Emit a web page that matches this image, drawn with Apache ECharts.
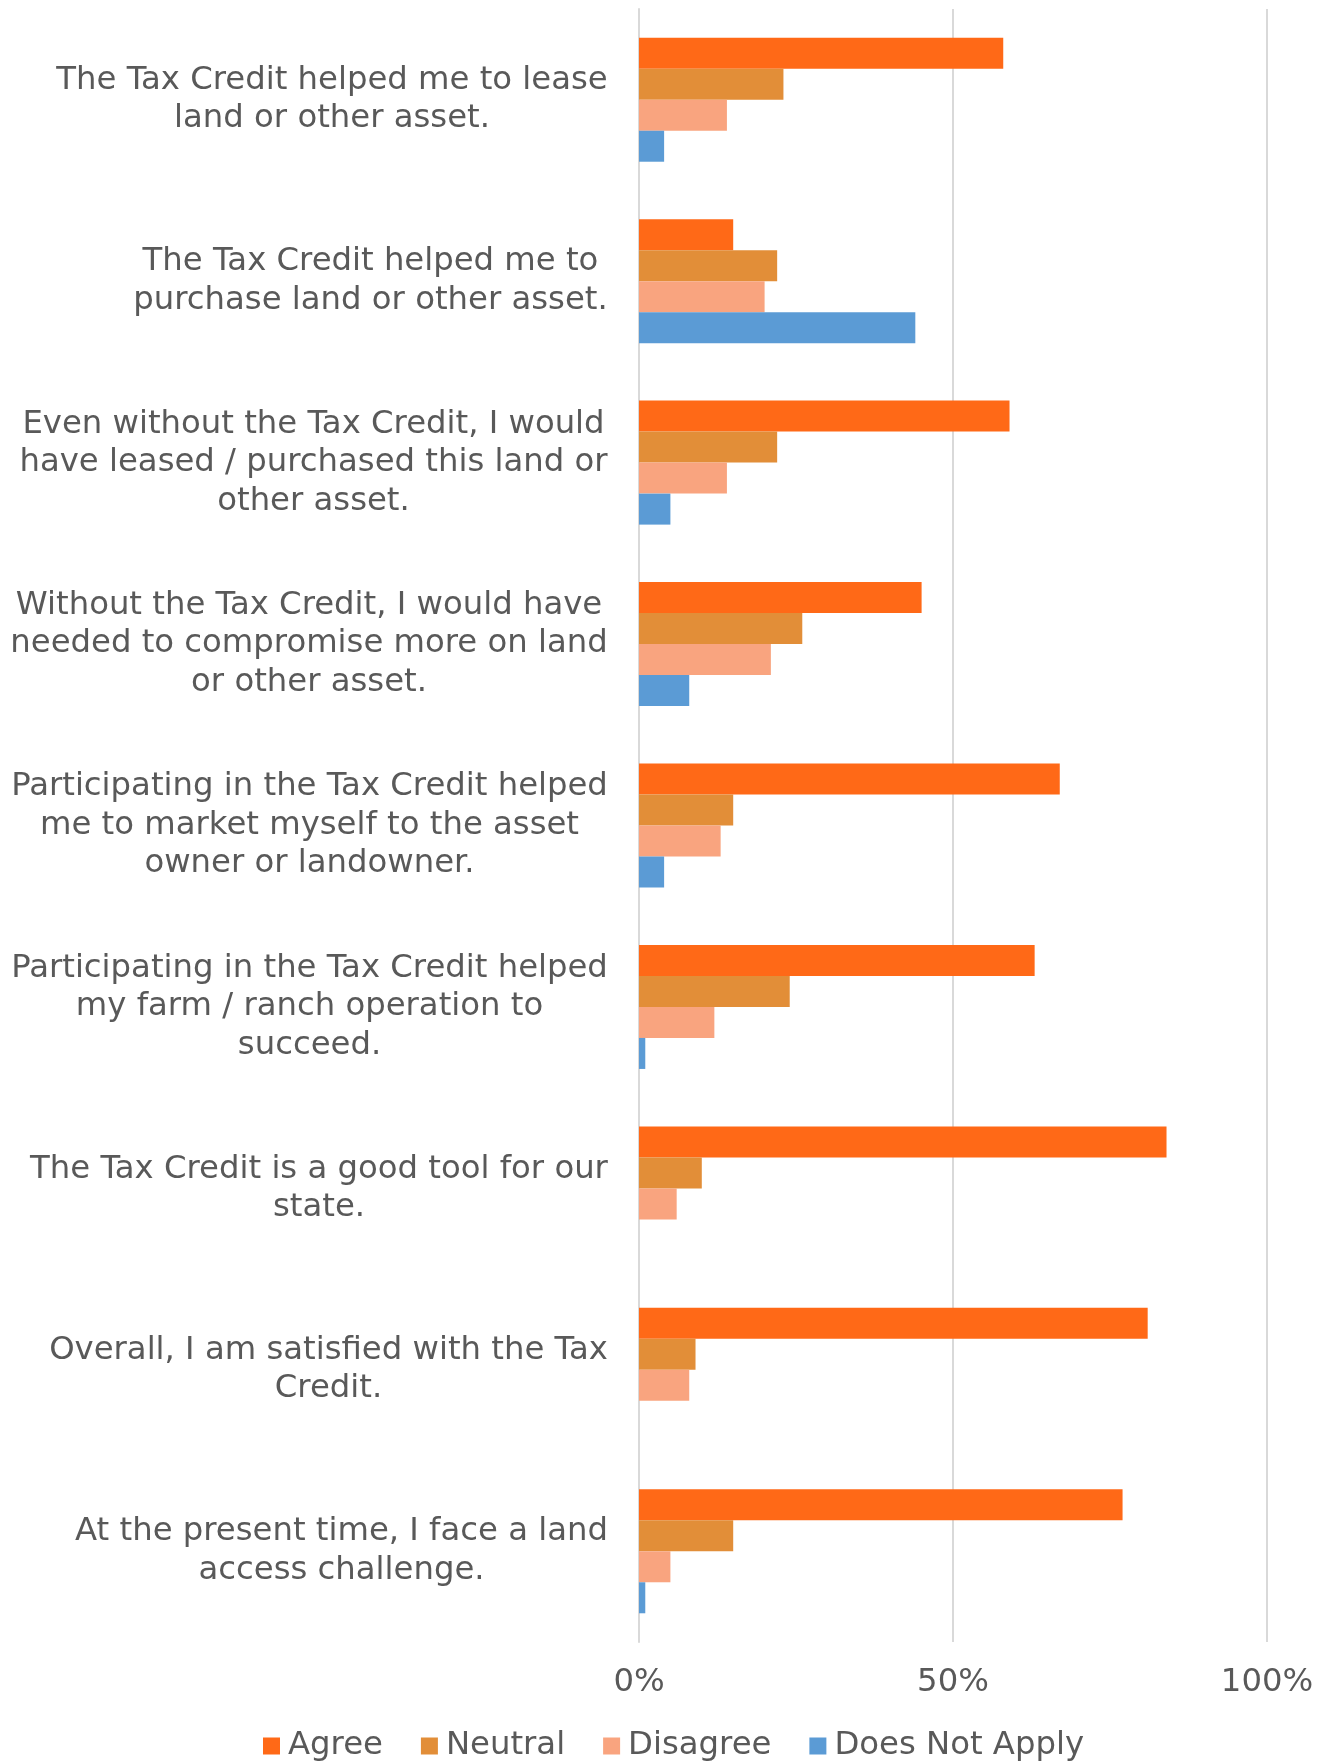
<!DOCTYPE html>
<html>
<head>
<meta charset="utf-8">
<script src="https://cdn.jsdelivr.net/npm/echarts@6/dist/echarts.min.js"></script>
<style>
html,body{margin:0;padding:0;background:#fff;}
#chart{width:1330px;height:1762px;}
</style>
</head>
<body>
<div id="chart"></div>
<script>
const categories = [
  "The Tax Credit helped me to lease\nland or other asset.",
  "The Tax Credit helped me to\npurchase land or other asset.",
  "Even without the Tax Credit, I would\nhave leased / purchased this land or\nother asset.",
  "Without the Tax Credit, I would have\nneeded to compromise more on land\nor other asset.",
  "Participating in the Tax Credit helped\nme to market myself to the asset\nowner or landowner.",
  "Participating in the Tax Credit helped\nmy farm / ranch operation to\nsucceed.",
  "The Tax Credit is a good tool for our\nstate.",
  "Overall, I am satisfied with the Tax\nCredit.",
  "At the present time, I face a land\naccess challenge."
];
const seriesNames = ["Agree", "Neutral", "Disagree", "Does Not Apply"];
const agree = [58, 15, 59, 45, 67, 63, 84, 81, 77];
const neutral = [23, 22, 22, 26, 15, 24, 10, 9, 15];
const disagree = [14, 20, 14, 21, 13, 12, 6, 8, 5];
const doesNotApply = [4, 44, 5, 8, 4, 1, 0, 0, 1];
const xTicks = [0, 50, 100];

const FONT = '"DejaVu Sans", Verdana, sans-serif';
const FS = 32.3;
const TXT = '#595959';
const colors = ['#ff6917', '#e28e38', '#f9a47f', '#5b9bd5'];

const cv = document.createElement('canvas').getContext('2d');
cv.font = FS + 'px "DejaVu Sans"';
const rich = {};
categories.forEach((c, i) => {
  const w = Math.max(...c.split('\n').map(l => cv.measureText(l).width));
  rich['r' + i] = {width: Math.ceil(w), align: 'center', fontSize: FS, lineHeight: 38.5, color: TXT, fontFamily: FONT};
});

const chart = echarts.init(document.getElementById('chart'), null, {renderer: 'canvas'});
const dataSets = [agree, neutral, disagree, doesNotApply];
chart.setOption({
  animation: false,
  color: colors,
  textStyle: {fontFamily: FONT},
  grid: {left: 639, right: 63, top: 9, bottom: 120, containLabel: false},
  legend: {
    data: seriesNames,
    left: 258,
    top: 1725,
    itemWidth: 17,
    itemHeight: 17,
    itemGap: 38,
    icon: 'rect',
    textStyle: {fontSize: FS, color: TXT, fontFamily: FONT, padding: [0, 0, 0, 3]}
  },
  xAxis: {
    type: 'value',
    min: 0,
    max: 100,
    interval: 50,
    axisLine: {show: false},
    axisTick: {show: false},
    splitLine: {lineStyle: {color: '#d9d9d9', width: 2}},
    axisLabel: {
      formatter: v => xTicks.includes(v) ? v + '%' : '',
      fontSize: FS, color: TXT, fontFamily: FONT, margin: 25
    }
  },
  yAxis: {
    type: 'category',
    inverse: true,
    data: categories,
    axisLine: {show: true, lineStyle: {color: '#d9d9d9', width: 2}},
    axisTick: {show: false},
    axisLabel: {
      margin: 31,
      align: 'right',
      formatter: (v, idx) => v.split('\n').map(l => '{r' + idx + '|' + l + '}').join('\n'),
      rich: rich
    }
  },
  series: dataSets.map((d, i) => ({
    name: seriesNames[i],
    type: 'bar',
    data: d,
    barWidth: 31,
    barGap: '0%',
    itemStyle: {color: colors[i]}
  }))
});
</script>
</body>
</html>
